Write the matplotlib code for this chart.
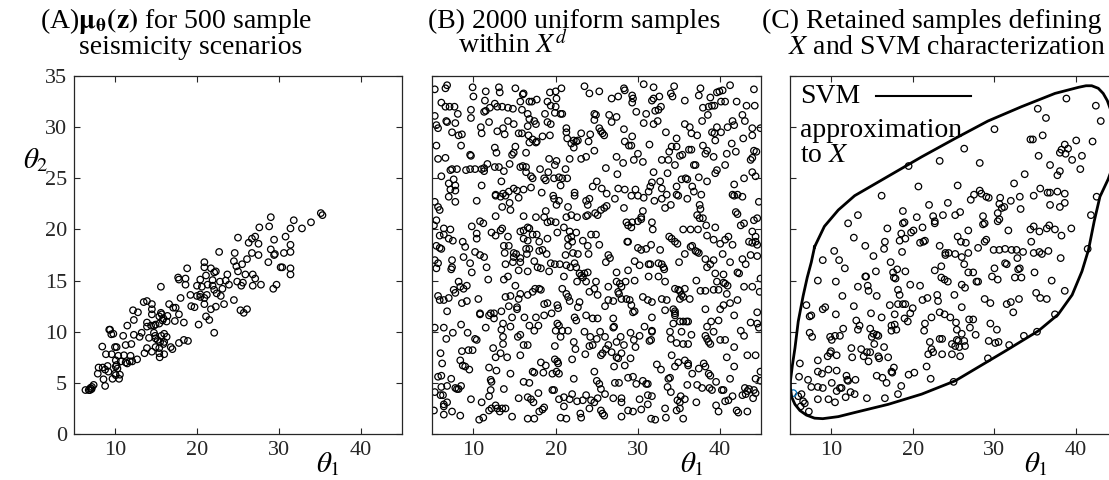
import numpy as np
import matplotlib.pyplot as plt

plt.rcParams['font.family'] = ['Liberation Serif', 'DejaVu Serif']
plt.rcParams['mathtext.fontset'] = 'stix'

# DATA
xticks = [10, 20, 30, 40]
yticks = [0, 5, 10, 15, 20, 25, 30, 35]

# (A) mu_theta(z) samples
a_pts = np.array([
    (35.1, 21.6), (35.3, 21.4), (29.0, 21.2), (31.8, 20.9), (33.9, 20.7), (32.8, 20.1), (31.4, 20.1), (28.8, 20.3), (27.6, 20.2),
    (25.0, 19.2), (27.1, 19.3), (26.7, 19.1), (26.3, 18.7), (27.5, 18.6), (29.4, 19.0), (30.8, 19.3), (31.4, 18.5), (29.0, 18.05),
    (29.4, 17.5), (29.5, 17.6), (30.6, 17.7), (31.4, 17.8), (22.7, 17.8), (24.6, 17.7), (26.7, 17.7), (27.5, 17.5), (26.1, 17.1),
    (25.5, 16.6), (24.5, 16.9), (24.8, 16.4), (25.0, 15.9), (28.7, 16.8), (30.2, 16.3), (30.4, 16.3), (31.4, 16.2), (31.4, 15.6),
    (20.9, 16.8), (20.9, 16.3), (21.7, 16.2), (22.3, 15.9), (22.1, 15.8), (23.7, 15.6), (25.9, 15.6), (26.8, 15.6), (27.1, 15.2),
    (18.8, 16.2), (17.7, 15.3), (17.8, 15.1), (18.6, 15.2), (20.4, 15.1), (21.1, 15.5), (21.9, 15.05), (22.8, 14.9), (23.5, 15.0),
    (23.9, 14.6), (24.9, 14.9), (25.6, 14.8), (25.4, 14.5), (26.8, 14.5), (27.8, 14.6), (29.3, 14.2), (29.7, 14.6), (15.6, 14.4),
    (18.6, 14.6), (20.0, 14.5), (20.6, 14.4), (21.3, 14.6), (21.9, 14.5), (22.1, 14.1), (23.1, 14.2), (18.0, 13.3), (19.2, 13.6),
    (20.0, 13.5), (20.4, 13.65), (20.4, 13.4), (21.2, 13.6), (20.9, 13.3), (22.4, 13.75), (22.9, 13.5), (24.5, 13.1), (23.3, 12.7),
    (22.3, 12.45), (21.7, 12.2), (20.9, 12.7), (19.3, 12.5), (19.7, 12.4), (25.3, 12.1), (26.1, 12.2), (25.7, 11.85), (21.1, 11.5),
    (21.5, 11.15), (20.2, 10.7), (22.1, 9.9), (16.6, 12.7), (17.1, 12.35), (17.4, 12.35), (17.8, 11.7), (17.3, 11.05), (18.4, 10.9),
    (13.5, 12.9), (13.9, 13.0), (14.5, 12.7), (14.5, 12.2), (14.5, 11.7), (15.6, 11.85), (15.7, 11.7), (15.4, 11.5), (16.4, 11.55),
    (12.2, 12.1), (12.8, 11.9), (12.3, 11.15), (13.9, 10.9), (13.9, 10.5), (14.4, 10.6), (14.75, 10.6), (14.95, 10.7), (15.4, 10.8),
    (15.8, 11.1), (15.9, 11.3), (16.3, 11.0), (11.5, 10.6), (9.3, 10.2), (9.4, 10.2), (9.55, 9.75), (9.8, 9.8), (11.0, 9.6), (12.3, 9.7),
    (13.0, 9.5), (13.25, 9.9), (14.15, 9.4), (14.75, 9.9), (14.9, 9.6), (14.95, 9.35), (15.2, 9.2), (15.65, 9.6), (16.0, 9.8), (16.3, 9.5),
    (15.5, 9.0), (16.0, 9.0), (15.9, 8.8), (14.95, 8.5), (15.4, 8.4), (16.8, 8.5), (17.0, 8.3), (17.8, 8.9), (18.4, 9.2), (18.9, 9.1),
    (8.45, 8.55), (10.0, 8.5), (10.2, 8.5), (11.3, 8.7), (12.0, 8.8), (13.9, 8.4), (14.5, 8.05), (13.6, 7.9), (15.4, 7.9), (15.45, 7.5),
    (16.0, 7.8), (8.9, 7.8), (9.6, 7.8), (10.4, 7.65), (11.1, 7.7), (11.9, 7.65), (12.7, 7.3), (10.1, 7.2), (10.7, 7.1), (11.3, 7.0),
    (11.5, 6.9), (11.8, 7.1), (12.1, 7.1), (8.0, 6.5), (8.5, 6.5), (9.1, 6.65), (10.1, 6.6), (10.3, 6.4), (10.2, 6.75), (8.8, 6.3),
    (9.2, 6.1), (7.9, 5.9), (10.0, 5.9), (10.6, 5.8), (10.1, 5.75), (8.6, 5.35), (9.7, 5.4), (10.5, 5.4), (8.8, 4.7), (7.4, 4.8),
    (7.2, 4.6), (7.0, 4.5), (6.8, 4.3), (6.4, 4.3), (7.15, 4.4), (6.95, 4.3),
])

# (B) uniform samples
b_pts = np.array([
    (5.3, 33.7), (6.6, 33.8), (6.8, 34.1), (9.9, 33.9), (10.0, 33.0), (11.5, 33.5), (13.1, 33.9), (13.2, 33.4), (15.1, 33.8), (16.1, 33.3),
    (16.0, 33.2), (19.3, 33.4), (20.0, 33.5), (20.7, 33.8), (20.1, 32.8), (23.5, 34.0), (24.1, 33.3), (25.3, 33.5), (26.8, 32.8), (27.6, 33.0),
    (28.3, 33.8), (28.4, 33.6), (29.3, 33.1), (29.4, 32.8), (29.3, 32.4), (30.7, 34.2), (31.9, 33.9), (31.7, 32.6), (31.9, 32.8), (32.6, 33.0),
    (34.0, 33.3), (34.2, 33.0), (34.4, 34.0), (35.7, 32.6), (37.4, 33.1), (37.6, 33.8), (38.8, 32.9), (39.6, 33.4), (39.9, 33.5), (40.3, 33.6),
    (41.2, 34.1), (40.6, 32.5), (40.1, 32.5), (42.0, 32.5), (44.1, 33.7), (44.2, 32.1), (43.2, 32.1),
    (6.1, 32.4), (6.6, 32.0), (7.1, 32.0), (7.7, 32.0), (8.1, 31.3), (5.3, 31.1), (6.8, 30.5), (6.7, 30.6), (7.8, 30.4), (5.5, 30.2),
    (5.7, 29.9), (7.4, 29.5), (8.2, 29.2), (8.6, 29.3), (9.7, 31.7), (9.7, 30.9), (11.4, 32.6), (11.3, 31.5), (11.5, 31.6), (12.0, 31.9),
    (12.6, 32.3), (12.9, 32.0), (13.5, 32.0), (14.2, 31.9), (14.8, 31.8), (10.9, 30.0), (11.0, 29.4), (11.9, 30.5), (12.9, 29.6), (13.6, 29.9),
    (13.8, 29.3), (14.2, 30.6), (14.9, 30.3), (15.7, 32.5), (15.9, 31.7), (16.8, 32.5), (17.1, 32.5), (17.7, 32.7), (16.6, 31.3), (16.8, 30.8),
    (17.4, 30.6), (17.6, 30.3), (15.5, 29.4), (15.9, 29.4), (16.6, 30.1), (16.7, 29.2), (18.7, 31.3), (19.0, 32.5), (19.4, 32.1), (20.0, 32.0),
    (19.9, 31.4), (20.6, 31.3), (20.8, 31.3), (19.0, 30.5), (19.4, 30.3), (18.4, 29.1), (19.3, 29.2), (21.3, 29.9), (21.3, 29.5), (21.4, 28.9),
    (21.9, 28.4), (22.2, 28.7), (22.5, 28.6), (22.7, 28.7), (22.2, 28.0), (23.1, 29.4), (24.0, 28.6), (24.7, 31.3), (24.9, 31.2), (24.7, 30.7),
    (25.3, 29.9), (25.5, 29.6), (25.7, 29.4), (25.9, 29.2), (24.2, 29.3), (24.7, 27.7), (26.5, 31.2), (26.8, 30.5), (27.4, 31.0), (28.3, 29.8),
    (28.4, 28.6), (28.9, 28.2), (29.2, 28.2), (29.3, 29.1), (29.8, 31.5), (30.0, 27.4), (30.7, 30.4), (31.0, 31.3), (31.4, 28.3), (31.9, 30.3),
    (32.4, 30.6), (32.1, 31.6), (32.5, 31.7), (32.8, 32.0), (33.4, 29.5), (33.8, 27.6), (34.1, 28.1), (34.7, 28.1), (34.7, 28.9), (35.4, 27.3),
    (35.7, 30.3), (36.3, 30.0), (36.5, 29.4), (37.2, 29.2), (36.2, 27.8), (36.5, 27.8), (37.8, 30.6), (37.9, 28.2), (38.4, 27.7), (37.9, 31.9),
    (38.6, 32.0), (39.0, 32.1), (39.3, 32.1), (38.5, 31.2), (39.6, 30.0), (39.0, 29.5), (39.3, 29.4), (39.4, 28.7), (40.1, 29.5), (40.9, 30.0),
    (41.5, 30.6), (41.7, 30.2), (42.7, 31.2), (43.0, 30.6), (43.9, 29.9), (43.9, 29.2), (44.9, 29.9), (42.8, 28.9), (41.4, 28.4), (40.8, 27.4),
    (41.9, 27.6), (44.1, 27.7), (44.4, 27.6), (43.7, 26.8), (43.9, 27.0), (40.6, 26.3), (39.6, 25.8), (39.4, 25.5), (43.9, 25.6), (44.3, 25.2),
    (42.9, 25.0), (41.7, 24.4), (39.2, 27.1), (38.2, 27.4),
    (5.5, 28.2), (5.7, 26.9), (6.6, 27.0), (8.5, 28.2), (9.6, 27.3), (9.7, 27.2), (7.2, 25.8), (7.4, 25.9), (8.0, 25.9), (9.1, 25.8),
    (9.6, 25.9), (10.2, 25.9), (11.0, 25.9), (11.3, 26.0), (11.3, 25.7), (11.7, 26.4), (12.6, 28.0), (12.8, 27.5), (12.6, 26.1), (13.1, 26.1),
    (13.7, 25.7), (14.4, 26.4), (14.7, 27.3), (14.9, 27.5), (15.1, 28.1), (16.4, 27.5), (15.7, 26.1), (16.0, 26.2), (16.4, 26.1), (16.4, 25.6),
    (17.0, 25.2), (17.2, 25.0), (16.8, 28.5), (17.2, 28.8), (17.6, 28.5), (17.7, 28.6), (18.1, 25.9), (19.2, 26.9), (20.1, 26.7), (19.9, 26.3),
    (19.1, 25.6), (18.6, 25.0), (19.8, 25.0), (20.4, 25.1), (20.8, 25.0), (21.4, 25.0), (20.6, 24.3), (21.2, 25.9), (21.7, 26.9), (23.1, 26.9),
    (23.7, 27.1), (26.1, 26.0), (27.4, 27.1), (28.2, 26.5), (27.5, 25.4), (29.5, 26.8), (30.6, 26.6), (31.9, 25.6), (32.9, 26.8), (33.7, 26.8),
    (34.5, 26.3), (35.1, 27.2), (36.8, 26.3), (37.0, 26.3), (33.6, 25.5), (35.3, 24.9), (35.8, 25.0), (36.0, 24.9), (37.4, 25.1), (38.4, 24.7),
    (36.6, 24.2), (32.7, 24.7), (31.7, 24.6), (31.5, 24.2), (31.3, 23.7), (34.7, 24.2), (6.1, 25.2), (7.6, 24.9), (7.8, 24.3), (7.0, 24.5),
    (7.2, 23.9), (7.8, 23.8), (11.0, 24.3), (13.4, 24.7), (12.7, 23.4), (13.6, 23.5), (14.3, 23.7), (14.9, 24.0), (15.3, 23.8), (16.1, 23.9),
    (17.0, 24.1), (18.3, 23.6), (18.8, 24.8), (22.3, 23.6), (24.5, 24.2), (25.0, 24.7), (25.6, 24.0), (26.2, 23.5), (27.6, 24.0), (28.4, 23.9),
    (29.7, 23.9), (32.9, 24.0), (34.7, 23.4), (36.8, 23.7), (37.7, 23.4), (41.5, 23.4), (42.1, 23.4),
    (5.3, 22.7), (5.7, 22.2), (5.9, 21.9), (7.0, 23.2), (7.8, 22.7), (10.4, 22.8), (12.7, 23.3), (13.3, 23.2), (13.9, 23.3), (13.5, 22.2),
    (14.4, 22.6), (15.5, 23.1), (14.5, 21.9), (12.7, 21.3), (16.1, 21.3), (17.6, 21.2), (18.8, 21.8), (18.6, 21.2), (19.0, 20.7), (19.4, 20.8),
    (20.0, 20.7), (19.8, 23.0), (19.7, 23.3), (20.1, 22.4), (20.4, 22.8), (21.5, 22.2), (21.3, 21.2), (21.9, 21.4), (22.6, 21.2), (22.3, 23.3),
    (23.7, 22.8), (24.1, 23.0), (23.9, 22.4), (23.7, 21.3), (23.9, 21.4), (24.8, 21.6), (25.5, 21.9), (25.9, 22.1), (26.2, 22.3), (25.1, 21.4),
    (27.2, 23.0), (28.3, 22.1), (29.2, 23.3), (30.0, 23.3), (30.7, 23.1), (30.6, 21.8), (30.4, 21.2), (30.4, 21.0), (30.0, 20.8), (29.3, 20.7),
    (28.6, 20.7), (28.8, 20.4), (29.2, 20.2), (31.7, 20.7), (31.8, 20.0), (32.0, 22.8), (32.9, 23.0), (33.5, 23.4), (33.3, 22.1), (34.0, 22.4),
    (34.9, 23.3), (36.0, 23.0), (35.5, 20.0), (36.4, 20.0), (37.3, 20.0), (37.5, 22.4), (37.6, 22.0), (37.2, 21.4), (37.5, 21.1), (37.9, 21.1),
    (38.3, 20.4), (39.4, 20.2), (41.7, 23.3), (42.7, 23.2), (41.9, 21.7), (42.1, 21.5), (42.5, 20.4), (42.9, 20.6), (44.1, 20.9), (44.5, 21.1),
    (44.7, 22.7), (43.9, 19.8), (44.3, 19.3),
    (5.2, 20.4), (5.5, 20.9), (6.4, 20.1), (7.2, 20.0), (5.9, 19.4), (6.4, 19.5), (7.0, 19.1), (7.5, 18.9), (5.5, 18.4), (5.9, 18.2),
    (6.1, 18.1), (8.7, 18.8), (9.0, 18.3), (9.8, 20.3), (10.8, 20.8), (11.2, 20.6), (10.4, 19.6), (10.4, 19.1), (10.2, 17.8), (10.8, 17.5),
    (11.3, 17.3), (8.8, 17.3), (12.2, 19.7), (12.7, 19.4), (13.3, 19.9), (13.5, 20.1), (14.2, 19.3), (13.7, 18.4), (14.3, 18.4), (13.8, 17.7),
    (14.9, 17.7), (15.2, 17.6), (14.9, 17.3), (15.7, 17.2), (15.7, 16.8), (14.8, 16.8), (15.7, 19.8), (16.1, 19.9), (16.6, 20.2), (16.8, 20.1),
    (16.1, 19.1), (16.6, 18.9), (16.4, 18.1), (16.8, 18.1), (16.5, 17.6), (17.2, 19.5), (17.7, 19.5), (18.0, 18.8), (19.0, 19.1), (18.0, 17.9),
    (18.4, 18.0), (18.9, 17.6), (20.2, 19.7), (21.0, 20.2), (21.7, 19.8), (21.9, 19.3), (22.5, 19.7), (21.5, 19.1), (21.5, 18.4), (22.0, 18.8),
    (21.2, 17.5), (22.1, 17.7), (22.7, 17.6), (23.3, 18.9), (23.9, 18.4), (24.0, 17.6), (24.3, 19.5), (24.9, 19.5), (25.3, 18.5), (26.4, 17.5),
    (26.6, 17.2), (26.1, 16.8), (28.7, 18.8), (28.8, 18.8), (30.0, 18.2), (30.4, 18.0), (31.0, 18.1), (31.6, 18.5), (32.7, 18.0), (33.8, 19.3),
    (34.1, 19.1), (34.5, 18.8), (34.8, 18.6), (35.7, 17.6), (36.4, 18.3), (36.6, 18.4), (37.0, 17.9), (37.2, 17.8), (37.4, 17.7), (38.4, 19.4),
    (39.2, 19.0), (40.0, 18.6), (40.6, 19.0), (41.0, 19.3), (41.5, 18.5), (43.5, 18.8), (43.9, 18.7), (44.3, 18.8), (44.5, 18.5), (43.7, 17.5),
    (44.5, 17.4), (42.7, 17.1), (40.3, 17.6), (39.2, 17.0), (38.2, 17.1),
    (5.3, 17.0), (5.7, 16.7), (5.5, 16.2), (7.4, 17.0), (7.3, 16.1), (7.4, 16.3), (9.6, 16.7), (9.8, 15.8), (8.2, 14.9), (8.4, 14.4),
    (8.8, 14.2), (9.2, 14.5), (7.6, 14.1), (7.8, 13.8), (5.7, 13.5), (5.9, 13.1), (6.4, 13.1), (7.0, 13.3), (8.6, 12.8), (9.2, 13.0),
    (10.6, 13.2), (11.8, 15.1), (11.6, 16.3), (13.9, 16.6), (13.7, 15.1), (14.2, 15.4), (15.1, 14.5), (15.5, 16.0), (16.6, 15.9), (17.4, 16.9),
    (17.8, 16.3), (18.2, 16.2), (19.2, 15.9), (19.4, 16.7), (19.9, 16.6), (20.5, 16.6), (21.3, 16.5), (21.8, 16.3), (21.0, 15.4), (22.3, 16.7),
    (22.5, 16.3), (22.9, 15.7), (23.1, 15.5), (23.5, 15.7), (23.3, 15.3), (23.9, 15.8), (23.7, 14.9), (22.6, 14.9), (24.9, 14.9), (24.7, 14.2),
    (26.4, 14.4), (27.4, 15.8), (27.4, 14.9), (27.8, 14.7), (28.0, 14.4), (28.5, 14.9), (29.6, 16.9), (29.6, 15.0), (28.8, 16.0), (30.2, 16.5),
    (31.3, 16.6), (31.5, 16.6), (31.3, 15.4), (32.5, 16.7), (33.1, 16.3), (33.2, 16.1), (32.9, 16.6), (32.5, 15.4), (33.3, 14.9), (35.0, 16.8),
    (37.1, 15.0), (38.4, 16.3), (38.8, 16.6), (39.4, 15.7), (40.4, 15.6), (39.6, 14.9), (40.4, 14.8), (40.6, 14.7), (40.9, 14.5), (39.2, 14.1),
    (39.8, 14.1), (37.6, 14.0), (38.2, 14.0), (40.8, 13.7), (41.2, 16.8), (42.1, 15.8), (42.3, 15.7), (43.1, 16.6), (42.9, 14.4), (43.9, 14.4),
    (44.9, 15.2), (44.8, 13.9), (34.5, 14.2), (34.9, 14.1), (35.1, 14.0), (35.7, 14.2), (35.1, 13.2), (35.3, 13.6), (35.5, 13.4), (36.3, 13.2),
    (30.6, 13.4), (31.2, 13.1), (31.7, 12.9), (32.9, 13.2), (33.5, 13.1), (28.6, 13.2), (29.0, 13.1), (28.0, 13.2), (27.6, 13.9), (27.7, 13.7),
    (29.2, 12.6), (26.4, 13.1), (27.0, 13.0), (26.0, 12.5), (25.1, 13.6), (24.1, 13.9), (22.9, 12.9), (22.7, 12.4), (21.7, 13.0), (21.5, 13.4),
    (21.3, 13.7), (20.8, 14.2), (20.3, 12.3), (20.2, 12.6), (19.0, 12.8), (18.6, 12.7), (18.2, 14.1), (18.0, 14.2), (17.5, 14.2), (17.2, 13.9),
    (16.6, 13.6), (15.7, 13.7), (15.5, 13.2), (14.5, 13.5), (13.9, 13.4), (14.3, 12.5), (15.3, 12.4), (15.3, 12.2), (13.4, 12.0), (12.1, 11.8),
    (12.5, 11.8), (10.8, 11.8), (6.8, 12.0), (33.3, 12.1), (34.3, 12.2), (34.5, 12.0), (29.6, 12.0), (38.2, 12.2), (40.4, 12.6), (40.0, 12.2),
    (41.2, 12.8), (42.1, 13.1), (44.5, 11.9),
    (5.3, 10.4), (6.4, 10.4), (6.7, 9.3), (7.5, 9.9), (8.5, 10.7), (9.3, 9.9), (10.2, 9.3), (10.4, 9.2), (10.8, 11.7), (11.9, 11.6),
    (12.5, 11.3), (11.5, 10.4), (13.4, 10.2), (13.6, 10.8), (14.7, 11.4), (14.5, 10.5), (13.6, 9.5), (15.4, 9.5), (15.7, 9.7), (16.2, 11.4),
    (16.8, 10.6), (17.4, 10.1), (17.9, 10.6), (17.6, 11.4), (18.6, 11.6), (19.5, 11.8), (20.2, 10.8), (20.4, 10.6), (20.0, 10.1), (20.8, 10.1),
    (21.5, 10.1), (20.6, 9.5), (22.3, 11.4), (22.5, 11.1), (23.7, 11.6), (24.5, 11.3), (25.1, 11.3), (23.5, 10.0), (24.2, 9.5), (25.0, 9.3),
    (25.4, 10.0), (27.0, 11.3), (27.1, 10.5), (27.0, 10.4), (26.0, 9.5), (27.9, 9.5), (27.4, 9.0), (29.1, 9.9), (29.5, 9.2), (30.2, 9.6),
    (29.4, 11.9), (31.4, 9.1), (31.6, 9.2), (31.7, 11.4), (31.7, 10.1), (31.7, 10.0), (30.8, 10.5), (33.9, 10.0), (34.3, 10.8), (34.0, 9.3),
    (34.5, 11.6), (34.5, 11.8), (35.1, 11.0), (35.5, 11.0), (35.9, 11.0), (36.1, 11.0), (35.3, 10.0), (36.5, 9.7), (34.7, 8.9), (35.5, 8.8),
    (36.1, 8.8), (38.4, 10.5), (38.9, 11.0), (39.8, 11.1), (39.2, 10.0), (38.2, 9.6), (38.4, 9.3), (38.6, 9.0), (38.8, 8.8), (40.0, 9.2),
    (40.6, 9.2), (41.7, 11.6), (42.5, 10.1), (42.9, 9.6), (43.7, 10.9), (44.5, 10.8), (44.7, 10.4), (41.7, 8.5),
    (6.0, 7.9), (6.2, 6.9), (8.6, 8.1), (9.4, 8.2), (9.9, 8.2), (8.4, 7.2), (8.7, 6.7), (9.0, 6.6), (9.5, 6.3), (11.9, 6.5),
    (12.4, 8.4), (12.7, 7.5), (13.3, 7.9), (14.1, 7.5), (13.6, 8.8), (12.8, 6.2), (14.5, 5.9), (15.7, 7.7), (16.1, 8.7), (16.6, 8.7),
    (17.2, 6.1), (17.4, 6.0), (18.2, 7.0), (18.8, 6.7), (18.5, 6.0), (19.6, 5.9), (20.1, 6.1), (20.4, 5.9), (19.9, 8.6), (19.9, 7.3),
    (20.2, 7.1), (20.3, 6.9), (22.0, 7.3), (22.2, 9.0), (22.4, 8.3), (23.6, 7.8), (24.1, 8.6), (24.5, 8.7), (25.5, 7.7), (25.7, 7.9),
    (26.4, 8.7), (26.1, 8.3), (26.8, 8.0), (27.1, 6.6), (27.4, 7.5), (27.6, 7.4), (28.0, 7.9), (28.3, 8.7), (28.4, 6.7), (29.1, 7.4),
    (29.7, 8.5), (32.3, 6.8), (32.8, 6.3), (34.1, 7.7), (34.9, 7.0), (34.5, 6.6), (35.7, 7.2), (36.1, 6.9), (36.1, 6.7), (36.6, 5.9),
    (37.4, 6.4), (38.0, 6.9), (38.2, 6.6), (38.6, 5.9), (38.8, 5.7), (39.5, 5.1), (40.8, 7.5), (41.7, 6.6), (43.3, 7.7), (44.3, 7.7),
    (44.9, 6.1), (44.3, 5.4), (41.2, 5.4), (40.2, 4.3), (5.7, 5.6), (6.1, 5.7), (7.3, 5.4), (8.5, 4.7), (7.8, 4.5), (8.0, 4.4),
    (8.2, 4.4), (6.1, 4.6), (6.8, 4.7), (5.3, 4.1), (6.0, 3.8), (6.3, 3.8),
    (12.1, 5.3), (12.2, 5.1), (13.7, 4.4), (12.1, 4.3), (11.9, 3.7), (9.7, 3.4), (11.0, 3.1), (11.9, 2.3), (12.2, 2.5), (12.7, 2.8),
    (12.9, 2.5), (13.2, 2.2), (13.5, 2.5), (13.9, 2.5), (15.5, 3.5), (16.1, 5.1), (16.8, 5.0), (16.6, 3.6), (17.0, 3.4), (17.3, 3.1),
    (17.9, 4.0), (18.4, 2.4), (18.6, 2.6), (18.0, 2.2), (17.4, 1.5), (16.6, 1.5), (14.7, 1.7), (10.7, 1.4), (11.2, 1.6), (8.4, 1.8),
    (6.4, 2.7), (6.4, 2.9), (6.8, 3.1), (7.4, 2.2), (6.4, 1.9), (5.2, 2.3), (19.6, 4.3), (19.8, 4.3), (20.4, 3.4), (21.0, 3.6),
    (21.7, 3.4), (22.0, 3.9), (21.0, 2.7), (20.6, 1.6), (21.3, 1.5), (22.2, 5.4), (22.6, 3.2), (23.3, 3.3), (23.0, 2.0), (23.1, 1.6),
    (23.7, 3.8), (24.3, 3.3), (24.7, 3.1), (24.1, 2.5), (25.0, 5.2), (25.3, 4.9), (25.5, 4.4), (24.7, 6.1), (25.1, 3.5), (25.5, 2.3),
    (25.7, 2.0), (25.9, 1.8), (26.0, 3.9), (27.0, 3.5), (27.2, 5.0), (27.7, 5.0), (28.0, 3.5), (28.0, 3.1), (28.8, 5.5), (29.4, 5.6),
    (28.8, 2.3), (29.4, 2.2), (28.0, 1.7), (29.8, 4.9), (30.2, 3.4), (30.4, 2.4), (30.6, 5.2), (31.0, 4.9), (31.2, 4.9), (31.2, 3.8),
    (31.7, 3.7), (31.2, 2.9), (31.6, 1.5), (32.1, 1.4), (33.3, 2.5), (33.4, 1.6), (33.7, 5.4), (33.9, 5.5), (33.6, 4.6), (34.0, 4.1),
    (34.8, 3.3), (35.1, 3.1), (34.7, 2.3), (35.1, 2.5), (35.5, 1.5), (35.2, 3.7), (35.7, 3.4), (36.0, 4.8), (37.1, 3.1), (37.2, 4.8),
    (37.8, 4.5), (38.7, 4.5), (39.0, 4.3), (39.5, 2.8), (39.8, 2.2), (40.4, 4.3), (40.6, 3.2), (41.0, 3.3), (41.5, 3.7), (42.0, 2.3),
    (42.2, 2.1), (42.7, 3.8), (43.1, 3.9), (43.3, 4.2), (43.5, 4.4), (43.3, 2.2), (44.0, 3.5), (44.1, 4.3), (44.3, 4.0), (43.0, 4.5),
    (44.9, 5.2),
])

# (C) retained samples
c_pts = np.array([
    (38.8, 32.8), (42.4, 32.1), (43.0, 30.6), (35.3, 31.8), (36.3, 30.9), (30.0, 29.8), (34.4, 28.8), (34.7, 28.8), (35.9, 29.2), (40.0, 28.7),
    (42.0, 28.6), (26.3, 27.9), (23.3, 26.7), (19.5, 26.2), (28.2, 26.5), (38.6, 28.3), (38.2, 27.8), (38.0, 27.5), (39.0, 27.9), (38.7, 27.4),
    (40.7, 27.2), (39.5, 26.8), (35.4, 27.2), (36.8, 26.3), (40.5, 25.9), (38.0, 25.7), (37.7, 25.3), (33.7, 25.4), (32.4, 24.5), (20.7, 24.2),
    (25.5, 24.3), (16.2, 23.3), (27.1, 22.9), (27.5, 23.4), (28.2, 23.8), (28.4, 23.5), (29.0, 23.2), (29.3, 23.1), (30.7, 23.1), (30.6, 22.5),
    (32.0, 22.8), (33.1, 23.2), (34.8, 23.3), (35.6, 24.0), (36.5, 23.6), (36.8, 23.6), (37.7, 23.7), (38.6, 23.5), (36.8, 22.4), (38.0, 22.2),
    (38.6, 22.6), (33.2, 22.0), (30.9, 22.1), (31.2, 22.2), (30.4, 21.6), (30.6, 21.0), (30.4, 20.8), (28.6, 21.3), (28.6, 20.5), (28.8, 20.6),
    (31.7, 19.9), (34.4, 20.0), (34.8, 20.3), (35.5, 19.8), (36.4, 20.1), (36.7, 20.4), (37.4, 20.0), (38.2, 19.4), (39.4, 20.1), (41.8, 21.4),
    (42.5, 23.2), (13.3, 21.4), (12.1, 20.6), (12.8, 19.2), (14.2, 18.4), (16.9, 20.1), (16.6, 18.8), (16.5, 18.1), (18.8, 21.8), (19.0, 20.7),
    (18.8, 20.6), (20.5, 21.2), (20.1, 19.9), (19.8, 19.7), (21.2, 20.2), (18.6, 19.6), (18.4, 18.9), (19.1, 19.1), (20.9, 18.7), (21.3, 18.8),
    (21.5, 18.9), (22.0, 22.4), (22.5, 21.3), (22.7, 20.8), (22.7, 20.6), (23.7, 21.4), (24.3, 22.6), (25.2, 21.4), (25.8, 21.7), (26.8, 19.9),
    (25.5, 19.3), (25.9, 18.8), (26.5, 18.7), (28.0, 18.2), (28.8, 18.8), (29.0, 19.0), (29.9, 18.0), (30.6, 18.0), (31.3, 18.1), (32.1, 18.0),
    (32.7, 18.0), (33.5, 17.8), (34.5, 18.8), (34.8, 17.7), (35.5, 17.8), (41.4, 18.1), (10.4, 17.9), (18.7, 17.8), (23.3, 18.4), (24.0, 17.7),
    (24.4, 17.7), (26.8, 17.7),
    (9.0, 17.0), (11.0, 17.0), (11.7, 16.2), (8.4, 15.0), (10.6, 14.9), (15.2, 17.4), (15.5, 15.9), (14.2, 15.4), (14.3, 15.4), (17.3, 16.8),
    (17.6, 15.8), (17.7, 15.3), (17.9, 15.2), (18.1, 16.1), (19.1, 15.9), (20.9, 14.5), (19.7, 14.6), (22.7, 16.0), (23.5, 16.4), (23.5, 15.3),
    (23.9, 15.1), (24.3, 14.9), (24.0, 17.5), (25.2, 17.6), (26.0, 17.3), (26.3, 16.6), (26.8, 15.8), (27.4, 15.8), (27.8, 14.9), (28.0, 14.9),
    (26.0, 14.6), (26.4, 14.3), (30.0, 16.2), (30.4, 15.1), (29.7, 15.4), (31.3, 16.7), (31.5, 16.6), (32.8, 17.2), (33.1, 16.2), (32.9, 16.1),
    (32.5, 15.3), (33.3, 15.3), (34.9, 15.8), (35.8, 17.6), (36.6, 17.9), (38.1, 17.2), (37.0, 15.0), (38.6, 14.0), (35.1, 13.8), (35.6, 13.3),
    (36.4, 13.2), (33.0, 13.2), (32.0, 12.9), (31.5, 12.7), (32.3, 11.9), (28.8, 13.2), (29.5, 12.8), (25.1, 13.6), (26.0, 12.4), (23.0, 13.6),
    (23.1, 13.0), (21.8, 13.3), (21.2, 13.1), (22.3, 11.4), (21.5, 10.8), (21.4, 10.1), (23.3, 11.9), (23.9, 11.7), (24.6, 11.4), (25.3, 10.9),
    (25.4, 10.2), (26.0, 9.8), (26.9, 11.2), (27.4, 11.2), (27.0, 10.4), (27.7, 9.7), (29.5, 10.8), (30.3, 10.2), (29.3, 9.1), (30.1, 8.9),
    (30.5, 9.0), (31.8, 8.7), (33.6, 9.6), (35.2, 10.0), (37.4, 11.7), (25.4, 9.2), (25.6, 9.1), (26.3, 9.1), (26.4, 8.6), (25.7, 8.5),
    (25.2, 8.6), (24.8, 8.8), (25.8, 7.6), (24.8, 7.8), (23.3, 9.3), (23.6, 9.3), (23.6, 7.8), (22.1, 9.0), (22.3, 8.3), (22.5, 8.0),
    (21.9, 7.8), (21.7, 6.6), (22.2, 5.4), (29.2, 7.4), (25.0, 5.1), (20.2, 6.0), (19.5, 5.8), (18.6, 4.7), (18.2, 3.9), (16.6, 3.5),
    (14.4, 3.5), (16.8, 5.0), (16.3, 5.5), (15.6, 5.7), (17.4, 6.1), (17.7, 6.5), (17.5, 6.0), (17.0, 7.5), (16.5, 8.5), (15.8, 7.6),
    (15.9, 7.4), (15.3, 8.8), (14.8, 8.0), (14.4, 8.0), (13.7, 8.3), (14.0, 7.6), (14.6, 7.1), (12.5, 8.4), (12.6, 7.5), (11.9, 5.7),
    (12.1, 5.2), (12.0, 5.3), (13.0, 5.3), (11.1, 4.5), (11.3, 4.5), (10.7, 4.2), (12.4, 4.1), (12.9, 3.9), (11.8, 3.6), (9.7, 3.4),
    (10.5, 3.1), (10.1, 5.0), (8.4, 3.4), (7.6, 4.6), (8.4, 4.6), (9.0, 4.5), (7.2, 5.3), (6.1, 5.6), (6.2, 6.9), (8.4, 6.1),
    (8.9, 5.9), (9.7, 6.3), (10.7, 6.2), (8.4, 7.2), (9.6, 7.6), (9.9, 7.9), (10.0, 8.1), (10.7, 7.7), (11.1, 9.6), (10.5, 9.6),
    (9.9, 9.5), (10.1, 9.2), (11.5, 10.3), (13.3, 10.2), (14.8, 10.3), (15.2, 9.8), (15.6, 9.7), (15.8, 9.6), (15.0, 9.5), (13.5, 10.6),
    (13.1, 11.1), (14.9, 11.8), (16.2, 11.4), (12.8, 12.5), (11.4, 13.5), (10.6, 11.7), (9.0, 12.2), (9.3, 12.4), (7.4, 11.5), (7.6, 11.6),
    (7.4, 9.9), (7.7, 9.5), (7.0, 12.6), (13.3, 14.4), (14.6, 14.0), (14.5, 14.5), (15.6, 13.5), (17.2, 12.6), (17.4, 10.6), (17.8, 10.7),
    (18.0, 10.2), (17.4, 10.1), (17.8, 11.7), (19.0, 11.3), (19.4, 11.0), (19.7, 11.8), (20.0, 12.3), (18.2, 12.7), (18.8, 12.7), (19.1, 12.7),
    (18.4, 13.6), (18.2, 14.1), (6.4, 3.9), (6.0, 3.7), (6.6, 3.2), (6.8, 3.0), (6.3, 2.7), (7.3, 2.2),
])
c_blue = np.array([(5.4, 4.0)])

# SVM boundary of X (traced)
svm_pts = np.array([
    (8.0, 18.3), (9.2, 20.3), (10.9, 21.9), (12.9, 23.3), (17.0, 25.2), (21.1, 27.1), (25.2, 28.9), (29.2, 30.6),
    (33.3, 32.0), (37.4, 33.3), (40.3, 33.9), (41.2, 34.05), (41.9, 34.05), (42.7, 33.8), (43.3, 33.3), (43.8, 32.6),
    (44.3, 31.5), (44.6, 30.0), (44.7, 28.0), (44.4, 26.0), (43.9, 24.9), (42.9, 23.2), (42.2, 20.8), (41.5, 18.0),
    (40.7, 15.9), (39.5, 13.6), (37.8, 11.7), (35.4, 10.1), (31.3, 8.1), (25.2, 5.2), (21.1, 3.9), (17.0, 2.9),
    (12.9, 2.1), (10.9, 1.7), (9.0, 1.5), (8.0, 1.55), (7.0, 1.85), (6.2, 2.3), (5.6, 2.9), (5.2, 3.6), (5.05, 4.5),
    (5.05, 5.2), (5.3, 6.8), (5.6, 8.4), (6.0, 11.0), (6.6, 13.5), (7.1, 15.3), (7.6, 16.8), (8.0, 18.3),
])

INK = '#262626'

fig = plt.figure(figsize=(11.09, 4.8), dpi=100)
axA = fig.add_axes([0.0667, 0.0958, 0.2958, 0.7458])
axB = fig.add_axes([0.3898, 0.0958, 0.2967, 0.7458])
axC = fig.add_axes([0.7124, 0.0958, 0.2949, 0.7458])

for ax in (axA, axB, axC):
    ax.set_xlim(5, 45)
    ax.set_ylim(0, 35)
    ax.set_xticks(xticks)
    ax.set_yticks(yticks)
    ax.tick_params(direction='in', top=True, right=True, length=4, width=0.8,
                   colors=INK, labelsize=16, pad=5)
    for s in ax.spines.values():
        s.set_color(INK)
        s.set_linewidth(0.9)
axB.set_yticklabels([])
axC.set_yticklabels([])

mk = dict(s=22, facecolors='none', edgecolors='black', linewidths=0.9)
axA.scatter(a_pts[:, 0], a_pts[:, 1], **mk)
axB.scatter(b_pts[:, 0], b_pts[:, 1], **mk)
axC.scatter(c_pts[:, 0], c_pts[:, 1], **mk)
axC.scatter(c_blue[:, 0], c_blue[:, 1], s=22, facecolors='none',
            edgecolors='#0072bd', linewidths=0.9)
axC.plot(svm_pts[:, 0], svm_pts[:, 1], color='black', lw=2.0)

# legend-like annotation in panel C
axC.text(0.031, 0.925, 'SVM', transform=axC.transAxes, fontsize=20, va='baseline')
axC.plot([0.263, 0.553], [0.944, 0.944], transform=axC.transAxes, color='black', lw=1.5)
axC.text(0.031, 0.830, 'approximation', transform=axC.transAxes, fontsize=20, va='baseline')
axC.text(0.031, 0.760, 'to $X$', transform=axC.transAxes, fontsize=20, va='baseline')

# axis labels
axA.text(-0.115, 0.765, r'$\theta_2$', transform=axA.transAxes, fontsize=21, ha='center', va='center')
for ax, xf in ((axA, 0.774), (axB, 0.79), (axC, 0.752)):
    ax.text(xf, -0.084, r'$\theta_1$', transform=ax.transAxes, fontsize=21, ha='center', va='center')

# titles
fig.text(0.0361, 0.9417, r'(A)$\mathbf{\mu_{\theta}(z)}$ for 500 sample', fontsize=20, va='baseline')
fig.text(0.0712, 0.8875, 'seismicity scenarios', fontsize=20, va='baseline')
fig.text(0.386, 0.9417, '(B) 2000 uniform samples', fontsize=20, va='baseline')
fig.text(0.413, 0.8875, 'within $X^d$', fontsize=20, va='baseline')
fig.text(0.687, 0.9417, '(C) Retained samples defining', fontsize=20, va='baseline')
fig.text(0.7106, 0.8875, '$X$ and SVM characterization', fontsize=20, va='baseline')

fig.savefig('out.png', dpi=100)
